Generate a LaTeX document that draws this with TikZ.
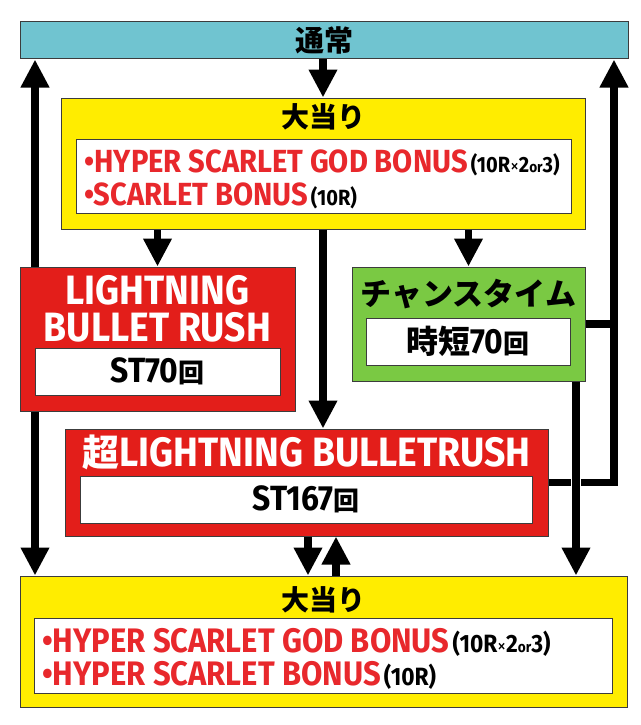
\documentclass[tikz,border=0pt]{standalone}
\usepackage{fontspec}
\setmainfont{Fira Sans}[FakeStretch=0.91]
\newfontfamily\jpfont{Noto Sans CJK JP}
\usetikzlibrary{arrows.meta, positioning, calc}

\definecolor{normalcyan}{RGB}{112,196,208}
\definecolor{winyellow}{RGB}{255,237,0}
\definecolor{rushred}{RGB}{227,30,26}
\definecolor{chancegreen}{RGB}{122,201,67}
\definecolor{bonusred}{RGB}{232,40,44}
\definecolor{boxline}{RGB}{60,60,60}

\newcommand{\jp}[1]{{\jpfont\bfseries #1}}
\newcommand{\kai}{{\jpfont\bfseries\fontsize{26}{26}\selectfont 回}}
\newcommand{\rnote}[2][22]{\hspace{3pt}{\color{black}\fontsize{#1}{#1}\selectfont #2}}
\newcommand{\tinyor}[1]{{\fontsize{15}{15}\selectfont #1}}
\newcommand{\roundx}{{\mdseries\fontsize{19}{19}\selectfont ×}}

\begin{document}
\begin{tikzpicture}[
  x=1pt, y=-1pt,
  % Define styles for different elements
  box/.style={draw=boxline, line width=1pt, inner sep=0pt},
  normalbox/.style={box, fill=normalcyan},
  winbox/.style={box, fill=winyellow},
  rushbox/.style={box, fill=rushred},
  chancebox/.style={box, fill=chancegreen},
  infobox/.style={box, fill=white},
  arrow/.style={-{Triangle[width=27pt, length=28pt]}, line width=7.5pt},
  rail/.style={line width=7.5pt},
  jptitle/.style={font=\jpfont\bfseries\fontsize{28}{28}\selectfont, inner sep=0pt},
  rushtitle/.style={font=\bfseries\fontsize{41}{37}\selectfont, text=white, align=center, inner sep=0pt},
  stcount/.style={font=\bfseries\fontsize{35}{35}\selectfont},
  bonus/.style={font=\bfseries\fontsize{32}{33}\selectfont, text=bonusred, align=left, inner sep=0pt}
]

\useasboundingbox (0,0) rectangle (640,725);

% Normal state
\node[normalbox, jptitle, font=\jpfont\bfseries\fontsize{29}{29}\selectfont, minimum width=608, minimum height=37] (normal) at (324,40.5) {通常};

% First jackpot
\node[winbox, minimum width=524, minimum height=131] (topwin) at (323,163.5) {};
\node[jptitle] (topwintitle) at (323,117) {大当り};
\node[infobox, minimum width=495, minimum height=74] (toplist) at (323.5,176) {};
\node[bonus] (toplisttext) at (322,179.5)
  {\textbullet HYPER SCARLET GOD BONUS\rnote{(10R\roundx 2\tinyor{or}3)}\\
   \textbullet SCARLET BONUS\rnote{(10R)}};

% Lightning bullet rush
\node[rushbox, minimum width=275, minimum height=144] (lbr) at (157.5,339) {};
\node[rushtitle] (lbrtitle) at (157.5,308.5) {LIGHTNING\\BULLET RUSH};
\node[infobox, stcount, minimum width=245, minimum height=47] (lbrst) at (157.5,371.5) {ST70\kai};

% Chance time
\node[chancebox, minimum width=233, minimum height=114] (chance) at (468.5,324) {};
\node[jptitle, font=\jpfont\bfseries\fontsize{31}{31}\selectfont] (chancetitle) at (468.5,294) {チャンスタイム};
\node[infobox, stcount, minimum width=204, minimum height=47] (chancest) at (468,341.5) {{\jpfont\fontsize{32}{32}\selectfont 時短}70\kai};

% Super lightning bullet rush
\node[rushbox, minimum width=483, minimum height=107] (super) at (306.5,482.5) {};
\node[rushtitle] (supertitle) at (306.5,452) {\jp{\fontsize{37}{37}\selectfont 超}LIGHTNING BULLETRUSH};
\node[infobox, stcount, minimum width=452, minimum height=47] (superst) at (306,499.5) {ST167\kai};

% Second jackpot
\node[winbox, minimum width=607, minimum height=131] (botwin) at (323.5,641.5) {};
\node[jptitle] (botwintitle) at (323.5,600) {大当り};
\node[infobox, minimum width=578, minimum height=75] (botlist) at (323,655.5) {};
\node[bonus, font=\bfseries\fontsize{34}{33}\selectfont, anchor=west] (botlisttext) at (42,658.5)
  {\textbullet HYPER SCARLET GOD BONUS\rnote[25]{(10R\roundx 2\tinyor{or}3)}\\
   \textbullet HYPER SCARLET BONUS\rnote[25]{(10R)}};

% Rails
\coordinate (leftrail) at (35,0);
\coordinate (rightrail) at (614,0);
\coordinate (greenrail) at (576,0);
\coordinate (downlane) at (308,0);
\coordinate (uplane) at (336,0);

% Arrows from the top
\draw[arrow] (topwin.north |- normal.south) -- (topwin.north);
\draw[arrow] (lbr.north |- topwin.south) -- (lbr.north);
\draw[arrow] (chance.north |- topwin.south) -- (chance.north);
\draw[arrow] (topwin.south) -- (topwin.south |- super.north);

% Left rail
\draw[arrow] (leftrail |- lbr.north) -- (leftrail |- normal.south);
\draw[arrow] (leftrail |- lbr.south) -- (leftrail |- botwin.north);

% Right rail back to normal
\draw[rail] (chance.east) -- (rightrail |- chance.east);
\draw[arrow] (super.east) -| (rightrail |- normal.south);

% Chance time down to jackpot
\draw[arrow, preaction={draw=white, line width=10pt, arrows=-}] (greenrail |- chance.south) -- (greenrail |- botwin.north);

% Super rush and jackpot
\draw[arrow] (downlane |- super.south) -- (downlane |- botwin.north);
\draw[arrow] (uplane |- botwin.north) -- (uplane |- super.south);

\end{tikzpicture}
\end{document}
